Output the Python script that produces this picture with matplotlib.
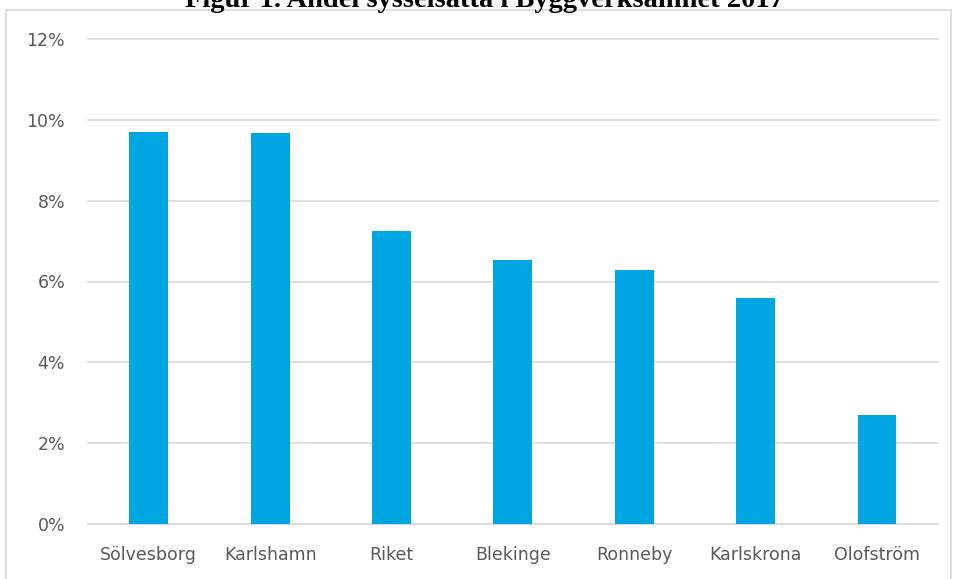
import matplotlib
matplotlib.use("Agg")
import matplotlib.pyplot as plt
from matplotlib.patches import Rectangle
from matplotlib.ticker import FuncFormatter

# Andel sysselsatta i byggverksamhet 2017
kommuner = ["Sölvesborg", "Karlshamn", "Riket", "Blekinge", "Ronneby", "Karlskrona", "Olofström"]
andel = [0.0970, 0.0968, 0.0725, 0.0653, 0.0628, 0.0559, 0.0270]
yticks = [0, 0.02, 0.04, 0.06, 0.08, 0.10, 0.12]

plt.rcParams['font.family'] = ['DejaVu Sans']

fig = plt.figure(figsize=(9.54, 5.79), dpi=100)
ax = fig.add_axes([88 / 954, 1 - 524 / 579, 849.7 / 954, 485 / 579])

x = range(len(kommuner))
ax.bar(x, andel, width=0.32, color="#00A6E2", zorder=3)

ax.set_ylim(0, 0.12)
ax.set_xlim(-0.5, len(kommuner) - 0.5)
ax.set_yticks(yticks)
ax.yaxis.set_major_formatter(FuncFormatter(lambda v, p: "{:.0f}%".format(v * 100)))
ax.set_xticks(list(x))
ax.set_xticklabels(kommuner)
ax.tick_params(axis="both", length=0, labelsize=12.5, colors="#595959")
ax.tick_params(axis="x", pad=16)
ax.tick_params(axis="y", pad=16.5)
ax.grid(axis="y", color="#D9D9D9", linewidth=1.2, zorder=0)
for gl in ax.get_ygridlines():
    gl.set_clip_on(False)
for s in ["top", "right", "left"]:
    ax.spines[s].set_visible(False)
ax.spines["bottom"].set_color("#D9D9D9")
ax.spines["bottom"].set_linewidth(1.2)

# chart frame
fig.patches.append(Rectangle((6 / 954, -0.01), 945 / 954, 1 - 10 / 579 + 0.01,
                             transform=fig.transFigure, fill=False,
                             edgecolor="#D9D9D9", linewidth=1.2))

fig.text(484 / 954, 1 - 7 / 579, "Figur 1. Andel sysselsatta i Byggverksamhet 2017",
         ha="center", va="baseline", fontsize=20.5, fontweight="bold",
         family=["Liberation Serif", "DejaVu Serif"], color="black")

fig.savefig("out.png", dpi=100)
